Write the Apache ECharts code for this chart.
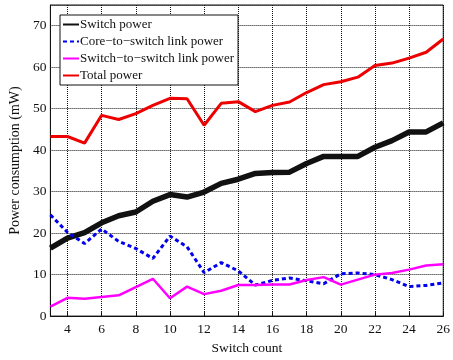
<!DOCTYPE html>
<html>
<head>
<meta charset="utf-8">
<script src="https://cdn.jsdelivr.net/npm/echarts@6/dist/echarts.min.js"></script>
<style>html,body{margin:0;padding:0;background:#fff}#c{width:453px;height:360px}</style>
</head>
<body>
<div id="c"></div>
<script>
var switchCounts = [3,4,5,6,7,8,9,10,11,12,13,14,15,16,17,18,19,20,21,22,23,24,25,26];
var switchPower = [16.4,18.8,20.1,22.5,24.2,25.1,27.7,29.3,28.7,29.9,32.0,33.0,34.4,34.6,34.7,36.8,38.5,38.5,38.5,40.7,42.3,44.4,44.4,46.6];
var coreLinkPower = [24.4,20.2,17.5,21.0,18.0,16.3,13.9,19.3,16.7,10.5,12.9,10.9,7.5,8.6,9.2,8.5,7.8,10.2,10.4,10.0,8.8,7.1,7.4,8.0];
var switchLinkPower = [2.3,4.4,4.2,4.6,5.0,7.0,9.0,4.3,7.1,5.3,6.1,7.5,7.5,7.6,7.6,8.7,9.4,7.6,8.8,10.0,10.4,11.2,12.2,12.5];
var totalPower = [43.3,43.3,41.7,48.4,47.4,48.8,50.8,52.5,52.4,46.0,51.3,51.7,49.3,50.8,51.6,53.9,55.8,56.5,57.6,60.4,61.0,62.2,63.6,66.8];
var seriesNames = ['Switch power','Core\u2212to\u2212switch link power','Switch\u2212to\u2212switch link power','Total power'];

var FONT = 'Liberation Serif';
var chart = echarts.init(document.getElementById('c'));
var evenOnly = function (idx, val) { return Number(val) % 2 === 0; };
var gridLine = {color: '#111', type: [1, 1], width: 1};
chart.setOption({
  animation: false,
  backgroundColor: '#fff',
  grid: {left: 40, right: 5, top: 5, bottom: 38, show: true, borderColor: '#111', borderWidth: 1},
  legend: {
    left: 60, top: 15, orient: 'vertical', itemGap: 4, itemWidth: 16, itemHeight: 14,
    padding: [3, 4, 3, 2], backgroundColor: '#fff', borderColor: '#111', borderWidth: 1,
    itemStyle: {opacity: 0},
    textStyle: {fontFamily: FONT, fontSize: 13, color: '#111', padding: [0, 0, 0, -4]},
    data: seriesNames
  },
  xAxis: {
    type: 'category', data: switchCounts.map(String), boundaryGap: false,
    name: 'Switch count', nameLocation: 'middle', nameGap: 24,
    nameTextStyle: {fontFamily: FONT, fontSize: 13.5, color: '#111'},
    axisLine: {lineStyle: {color: '#111'}},
    axisTick: {inside: true, interval: evenOnly, length: 4, lineStyle: {color: '#111'}},
    axisLabel: {interval: evenOnly, fontFamily: FONT, fontSize: 13.5, color: '#111', margin: 6},
    splitLine: {show: true, interval: evenOnly, lineStyle: gridLine}
  },
  yAxis: {
    type: 'value', min: 0, max: 75, interval: 10,
    name: 'Power consumption (mW)', nameLocation: 'middle', nameGap: 28,
    nameTextStyle: {fontFamily: FONT, fontSize: 14, color: '#111'},
    axisLine: {show: true, lineStyle: {color: '#111'}},
    axisTick: {inside: true, length: 4, lineStyle: {color: '#111'}},
    axisLabel: {fontFamily: FONT, fontSize: 13.5, color: '#111', margin: 4, showMaxLabel: false,
      formatter: function (v) { return v > 70 ? '' : String(v); }},
    splitLine: {show: true, lineStyle: gridLine}
  },
  series: [
    {name: seriesNames[0], type: 'line', data: switchPower, symbol: 'none', z: 2,
     color: '#111', lineStyle: {color: '#111', width: 5.5}},
    {name: seriesNames[1], type: 'line', data: coreLinkPower, symbol: 'none', z: 3,
     color: '#0000ee', lineStyle: {color: '#0000ee', width: 3, type: [4, 3]}},
    {name: seriesNames[2], type: 'line', data: switchLinkPower, symbol: 'none', z: 3,
     color: '#ff00ff', lineStyle: {color: '#ff00ff', width: 2.5}},
    {name: seriesNames[3], type: 'line', data: totalPower, symbol: 'none', z: 4,
     color: '#ee0000', lineStyle: {color: '#ee0000', width: 3}}
  ]
});
</script>
</body>
</html>
